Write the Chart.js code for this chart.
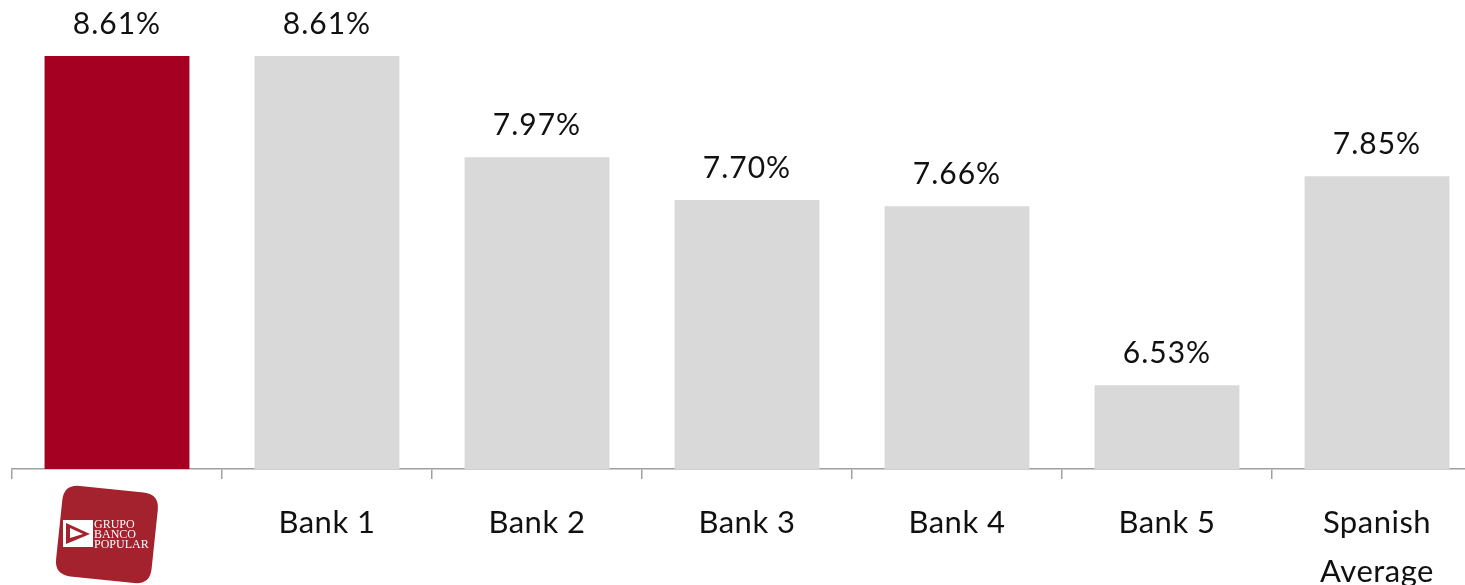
<!DOCTYPE html>
<html>
<head>
<meta charset="utf-8">
<script src="https://cdn.jsdelivr.net/npm/chart.js@4"></script>
<style>
  html, body { margin: 0; padding: 0; overflow: hidden; background: #fff; }
  #wrap { width: 1490px; height: 585px; }
</style>
</head>
<body>
<div id="wrap"><canvas id="myChart" width="1490" height="585"></canvas></div>
<script>
// first slot is the Banco Popular logo, drawn by the logo plugin below
var categories = ['', 'Bank 1', 'Bank 2', 'Bank 3', 'Bank 4', 'Bank 5', ['Spanish', 'Average']];
var ratios = [8.61, 8.61, 7.97, 7.70, 7.66, 6.53, 7.85];
var barColors = ['#a50021', '#d9d9d9', '#d9d9d9', '#d9d9d9', '#d9d9d9', '#d9d9d9', '#d9d9d9'];

const labelFont = 'Lato, "Open Sans", sans-serif';

// slightly looser tracking for all chart text
const tracking = {
    id: 'tracking',
    beforeDraw(chart) { chart.ctx.letterSpacing = '0.5px'; }
};

// percentage labels above each bar
const valueLabels = {
    id: 'valueLabels',
    afterDatasetsDraw(chart) {
        const ctx = chart.ctx;
        const meta = chart.getDatasetMeta(0);
        ctx.save();
        ctx.letterSpacing = '1px';
        ctx.font = '30px ' + labelFont;
        ctx.fillStyle = '#111';
        ctx.textAlign = 'center';
        ctx.textBaseline = 'alphabetic';
        meta.data.forEach(function (bar, i) {
            ctx.fillText(ratios[i].toFixed(2) + '%', bar.x, bar.y - 22.5);
        });
        ctx.restore();
    }
};

function roundRect(ctx, x, y, w, h, r) {
    ctx.beginPath();
    ctx.moveTo(x + r, y);
    ctx.lineTo(x + w - r, y);
    ctx.quadraticCurveTo(x + w, y, x + w, y + r);
    ctx.lineTo(x + w, y + h - r);
    ctx.quadraticCurveTo(x + w, y + h, x + w - r, y + h);
    ctx.lineTo(x + r, y + h);
    ctx.quadraticCurveTo(x, y + h, x, y + h - r);
    ctx.lineTo(x, y + r);
    ctx.quadraticCurveTo(x, y, x + r, y);
    ctx.closePath();
}

// logo in place of the first category label
const logo = {
    id: 'logo',
    afterDraw(chart) {
        const ctx = chart.ctx;
        const xScale = chart.scales.x;
        const cx = xScale.getPixelForTick(0) - 10;
        const cy = 534;
        ctx.save();
        ctx.letterSpacing = '0px';
        ctx.translate(cx, cy);
        ctx.save();
        ctx.rotate(6 * Math.PI / 180);
        roundRect(ctx, -48, -45, 96, 91, 16);
        ctx.fillStyle = '#a3222d';
        ctx.fill();
        ctx.restore();
        // flag mark
        ctx.fillStyle = '#fff';
        ctx.fillRect(-44, -14, 30, 27);
        ctx.fillStyle = '#a3222d';
        ctx.beginPath();
        ctx.moveTo(-41, -11);
        ctx.lineTo(-17, 0);
        ctx.lineTo(-41, 10);
        ctx.closePath();
        ctx.fill();
        ctx.fillStyle = '#fff';
        ctx.beginPath();
        ctx.moveTo(-37, -6);
        ctx.lineTo(-24, 0);
        ctx.lineTo(-37, 4);
        ctx.closePath();
        ctx.fill();
        // name
        ctx.font = '12px "Liberation Serif", serif';
        ctx.textAlign = 'left';
        ctx.textBaseline = 'alphabetic';
        ctx.fillText('GRUPO', -13, -6);
        ctx.fillText('BANCO', -13, 4);
        ctx.fillText('POPULAR', -13, 13.7);
        ctx.restore();
    }
};

const ctx = document.getElementById('myChart').getContext('2d');
const myChart = new Chart(ctx, {
    type: 'bar',
    data: {
        labels: categories,
        datasets: [{
            data: ratios,
            backgroundColor: barColors,
            barPercentage: 1,
            categoryPercentage: 0.69
        }]
    },
    options: {
        responsive: false,
        animation: false,
        events: [],
        layout: { padding: { left: 12, right: 8, top: 0, bottom: 0 } },
        plugins: { legend: { display: false }, tooltip: { enabled: false } },
        scales: {
            y: { display: false, min: 6, max: 8.964 },
            x: {
                border: { color: '#a0a0a0', width: 1.5 },
                grid: { offset: true, drawOnChartArea: false, tickLength: 10, color: '#a0a0a0', lineWidth: 1.5 },
                ticks: {
                    color: '#111',
                    padding: 19,
                    maxRotation: 0,
                    font: { family: labelFont, size: 31, lineHeight: 1.6 }
                },
                afterFit: function (scale) { scale.height = 116; }
            }
        }
    },
    plugins: [tracking, valueLabels, logo]
});
</script>
</body>
</html>
